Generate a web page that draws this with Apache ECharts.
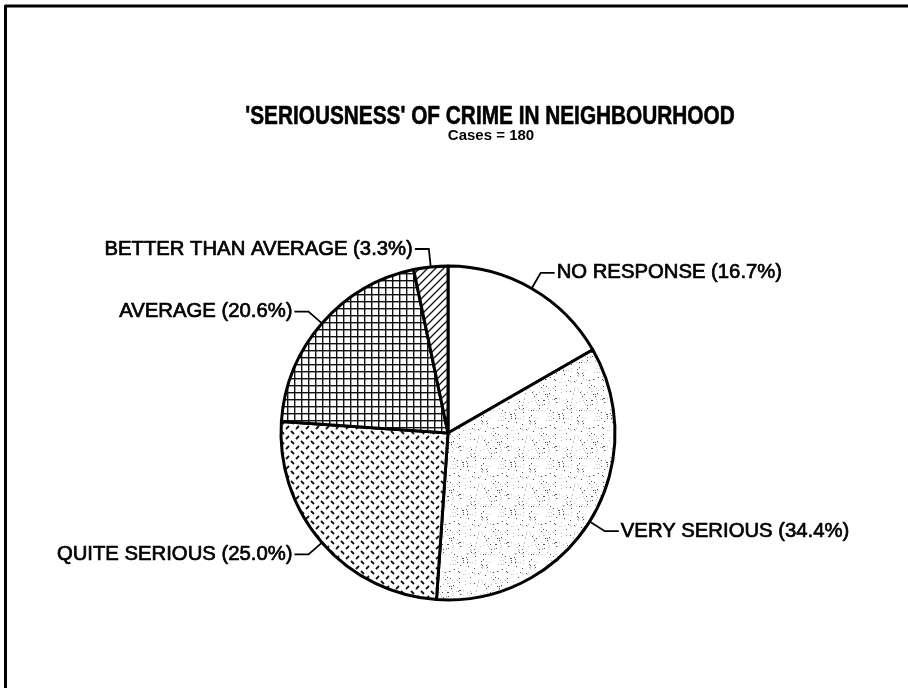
<!DOCTYPE html>
<html>
<head>
<meta charset="utf-8">
<title>'SERIOUSNESS' OF CRIME IN NEIGHBOURHOOD</title>
<script src="https://cdn.jsdelivr.net/npm/echarts@6/dist/echarts.min.js"></script>
<style>
  html, body { margin: 0; padding: 0; background: #fff; }
  #chart { width: 908px; height: 688px; }
</style>
</head>
<body>
<div id="chart"></div>
<script>
// Survey responses: perceived seriousness of crime (percent of 180 cases)
const categories = ['NO RESPONSE', 'VERY SERIOUS', 'QUITE SERIOUS', 'AVERAGE', 'BETTER THAN AVERAGE'];
const percents = [16.7, 34.4, 25.0, 20.6, 3.3];
const totalCases = 180;
const titleText = "'SERIOUSNESS' OF CRIME IN NEIGHBOURHOOD";

const FONT = '"Liberation Sans", Arial, Helvetica, sans-serif';

// ---- fill patterns drawn on small tiles ----
function tile(w, h, draw) {
  const c = document.createElement('canvas');
  c.width = w; c.height = h;
  const g = c.getContext('2d');
  g.fillStyle = '#fff';
  g.fillRect(0, 0, w, h);
  draw(g, w, h);
  return { image: c, repeat: 'repeat' };
}

// fine, light stipple
const stipple = tile(48, 48, (g, w, h) => {
  let s = 12345;
  const next = () => { s = (s * 1103515245 + 12345) & 0x7fffffff; return s / 0x7fffffff; };
  for (let y = 0; y < h; y++) {
    for (let x = 0; x < w; x++) {
      const r = next();
      if (r < 0.06) {
        g.fillStyle = r < 0.02 ? 'rgba(40,40,40,0.8)' : 'rgba(110,110,110,0.45)';
        g.fillRect(x, y, 1, 1);
      }
    }
  }
});

// broken diagonal lattice of short dashes
const dashes = tile(10, 10, (g) => {
  g.strokeStyle = '#111';
  g.lineWidth = 1.8;
  g.lineCap = 'butt';
  g.beginPath();
  g.moveTo(1, 1); g.lineTo(4, 4);
  g.moveTo(6, 9); g.lineTo(9, 6);
  g.stroke();
});

// square grid
const grid = tile(7, 7, (g) => {
  g.fillStyle = '#111';
  g.fillRect(0, 0, 7, 1.4);
  g.fillRect(0, 0, 1.4, 7);
});

// single diagonal hatch
const hatch = tile(8, 8, (g) => {
  g.strokeStyle = '#111';
  g.lineWidth = 1.3;
  g.beginPath();
  g.moveTo(-2, 10); g.lineTo(10, -2);
  g.moveTo(-2, 2); g.lineTo(2, -2);
  g.moveTo(6, 10); g.lineTo(10, 6);
  g.stroke();
});

const fills = ['#ffffff', stipple, dashes, grid, hatch];

const chart = echarts.init(document.getElementById('chart'), null, { renderer: 'canvas' });

chart.setOption({
  backgroundColor: '#ffffff',
  animation: false,
  graphic: [
    // frame edges
    { type: 'line', shape: { x1: 5, y1: 6, x2: 908, y2: 6 }, style: { stroke: '#000', lineWidth: 3 } },
    { type: 'line', shape: { x1: 5.5, y1: 5, x2: 5.5, y2: 688 }, style: { stroke: '#000', lineWidth: 3 } },
    // heading, set in a condensed heavy face
    {
      type: 'text', x: 490, y: 117, scaleX: 0.8,
      style: {
        text: titleText, x: 0, y: 0, align: 'center', verticalAlign: 'middle',
        font: 'bold 26px ' + FONT, fill: '#000', stroke: '#000', lineWidth: 0.6
      }
    },
    {
      type: 'text', x: 491, y: 136,
      style: {
        text: 'Cases = ' + totalCases, x: 0, y: 0, align: 'center', verticalAlign: 'middle',
        font: 'bold 15px ' + FONT, fill: '#000'
      }
    }
  ],
  series: [{
    type: 'pie',
    center: [448, 433],
    radius: [0, 167],
    startAngle: 90,
    clockwise: true,
    avoidLabelOverlap: false,
    itemStyle: { borderColor: '#000', borderWidth: 3 },
    label: {
      show: true,
      position: 'outside',
      color: '#000',
      fontFamily: FONT,
      fontSize: 20.3,
      textBorderColor: '#000',
      textBorderWidth: 0.7,
      distanceToLabelLine: 2,
      formatter: (p) => p.name + ' (' + p.value.toFixed(1) + '%)'
    },
    labelLine: {
      show: true,
      length: 18,
      length2: 14,
      lineStyle: { color: '#000', width: 1.8 }
    },
    emphasis: { disabled: true },
    data: categories.map((name, i) => ({
      name: name,
      value: percents[i],
      itemStyle: { color: fills[i] }
    }))
  }]
});
</script>
</body>
</html>
